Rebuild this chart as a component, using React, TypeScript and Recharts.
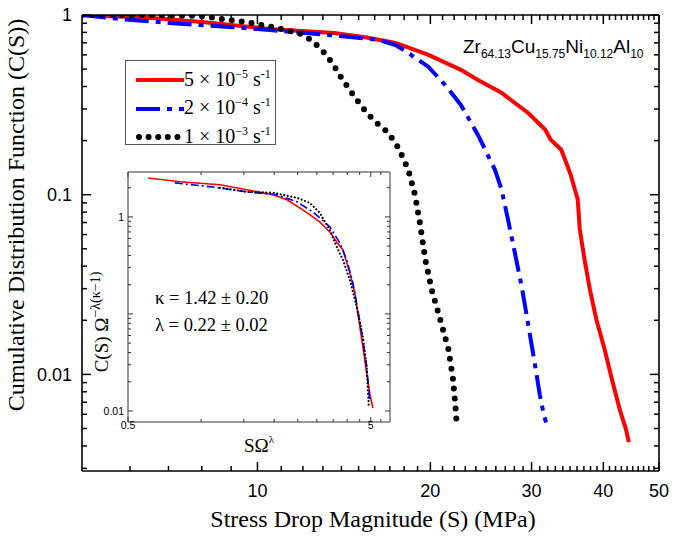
import { LineChart, Line, XAxis, YAxis, Legend } from "recharts";

// stress drop magnitude S (MPa) and cumulative distribution C(S), one pair per strain rate
const RED_S = [4.95, 6.56, 8.0, 10.5, 13.6, 15.5, 17.4, 19.85, 22.6, 24.2, 26.6, 29.6, 31.7, 32.4, 33.8, 35.1, 36.1, 36.4, 37.1, 37.9, 38.9, 40.2, 41.4, 42.7, 43.8, 44.3];
const RED_C = [1.0, 0.962, 0.914, 0.836, 0.794, 0.75, 0.699, 0.6, 0.495, 0.435, 0.369, 0.285, 0.23, 0.202, 0.178, 0.129, 0.094, 0.064, 0.0435, 0.0297, 0.0202, 0.0138, 0.0094, 0.0064, 0.00495, 0.0042];

const BLUE_S = [4.95, 5.76, 7.03, 8.93, 10.5, 13.3, 16.3, 17.4, 18.5, 19.85, 21.2, 22.6, 24.2, 25.9, 26.6, 27.3, 28.1, 28.9, 29.7, 30.4, 31.0, 31.5, 31.8];
const BLUE_C = [1.0, 0.95, 0.903, 0.858, 0.825, 0.774, 0.726, 0.681, 0.6, 0.514, 0.409, 0.316, 0.215, 0.138, 0.107, 0.0726, 0.0464, 0.0297, 0.0178, 0.0114, 0.00774, 0.006, 0.0054];

const BLACK_S = [4.95, 6.5, 7.93, 9.56, 10.6, 11.8, 12.4, 12.95, 13.5, 14.0, 14.6, 15.2, 15.9, 16.9, 17.6, 18.3, 18.8, 19.2, 19.6, 20.1, 20.8, 21.5, 21.9, 22.1, 22.2];
const BLACK_C = [1.0, 1.0, 0.987, 0.914, 0.858, 0.794, 0.726, 0.639, 0.541, 0.447, 0.369, 0.308, 0.261, 0.221, 0.182, 0.138, 0.1, 0.068, 0.0435, 0.0297, 0.0202, 0.0138, 0.0094, 0.0068, 0.0056];

// inset: scaled S Omega^lambda vs C(S) Omega^(-lambda(kappa-1))
const IN_RED_X = [0.605, 0.818, 1.196, 1.544, 1.976, 2.255, 2.625, 3.08, 3.39, 3.62, 3.84, 4.1, 4.3, 4.42, 4.64, 4.81, 4.95, 5.1];
const IN_RED_Y = [2.52, 2.3, 2.14, 1.9, 1.69, 1.5, 1.18, 0.888, 0.7, 0.552, 0.457, 0.265, 0.164, 0.102, 0.0457, 0.0246, 0.0153, 0.0107];

const IN_BLUE_X = [0.78, 1.196, 1.544, 2.05, 2.48, 2.89, 3.39, 3.73, 3.98, 4.22, 4.42, 4.64, 4.81, 4.95];
const IN_BLUE_Y = [2.24, 1.99, 1.81, 1.69, 1.43, 1.126, 0.789, 0.54, 0.36, 0.209, 0.11, 0.054, 0.0284, 0.013];

const IN_BLACK_X = [1.196, 1.544, 1.976, 2.48, 2.81, 3.08, 3.39, 3.62, 3.84, 4.1, 4.38, 4.64, 4.81, 4.91];
const IN_BLACK_Y = [1.99, 1.81, 1.77, 1.57, 1.39, 1.1, 0.734, 0.491, 0.36, 0.224, 0.118, 0.058, 0.0284, 0.0107];

const X_LABELS = [10, 20, 30, 40, 50];
const X_TICKS = [6, 7, 8, 9, 10, 11, 12, 13, 14, 15, 16, 17, 18, 19, 20, 21, 22, 23, 24, 25, 26, 27, 28, 29, 30, 31, 32, 33, 34, 35, 36, 37, 38, 39, 40, 41, 42, 43, 44, 45, 46, 47, 48, 49, 50];
const Y_LABELS = [0.01, 0.1, 1];
const Y_TICKS = [0.003, 0.004, 0.005, 0.006, 0.007, 0.008, 0.009, 0.01, 0.02, 0.03, 0.04, 0.05, 0.06, 0.07, 0.08, 0.09, 0.1, 0.2, 0.3, 0.4, 0.5, 0.6, 0.7, 0.8, 0.9, 1];

const IN_X_LABELS = [0.5, 5];
const IN_X_TICKS = [0.5, 1, 1.5, 2, 2.5, 3, 3.5, 4, 4.5, 5, 5.5];
const IN_Y_LABELS = [0.01, 1];
const IN_Y_MAJOR = [0.01, 0.1, 1];
const IN_Y_TICKS = [0.01, 0.02, 0.03, 0.04, 0.05, 0.06, 0.07, 0.08, 0.09, 0.1, 0.2, 0.3, 0.4, 0.5, 0.6, 0.7, 0.8, 0.9, 1, 2];

const SERIES = [
  { name: "5 × 10", exp: "−5", color: "#ff0000", dash: undefined, width: 4, cap: "butt" },
  { name: "2 × 10", exp: "−4", color: "#0000ff", dash: "24 7 5 7", width: 4, cap: "butt" },
  { name: "1 × 10", exp: "−3", color: "#000000", dash: "0 9.6", width: 6, cap: "round" },
];

const SANS = "'Liberation Sans', Arial, sans-serif";
const SERIF = "'Liberation Serif', 'Times New Roman', serif";

const zip = (xs: number[], ys: number[]) => xs.map((x, i) => ({ x, y: ys[i] }));

const hit = (arr: number[], v: number) => arr.some((a) => Math.abs(a - v) / a < 1e-6);

type Side = "bottom" | "top" | "left" | "right";

function tickFactory(
  side: Side,
  majors: number[],
  labels: number[],
  majorLen: number,
  minorLen: number,
  fontSize: number,
  gap: number,
  stroke: string,
  sw: number
) {
  return function Tick(props: any) {
    const { x, y, payload } = props;
    const v = Number(payload.value);
    const len = hit(majors, v) ? majorLen : minorLen;
    const dx = side === "left" ? len : side === "right" ? -len : 0;
    const dy = side === "bottom" ? -len : side === "top" ? len : 0;
    let label = null;
    if (hit(labels, v)) {
      if (side === "bottom") {
        label = (
          <text x={x} y={y + gap} textAnchor="middle" fontFamily={SANS} fontSize={fontSize} fill="#000">
            {String(v)}
          </text>
        );
      } else if (side === "left") {
        label = (
          <text x={x - gap} y={y + fontSize * 0.36} textAnchor="end" fontFamily={SANS} fontSize={fontSize} fill="#000">
            {String(v)}
          </text>
        );
      }
    }
    return (
      <g>
        <line x1={x} y1={y} x2={x + dx} y2={y + dy} stroke={stroke} strokeWidth={sw} />
        {label}
      </g>
    );
  };
}

function LegendBox() {
  return (
    <div
      style={{
        width: 151,
        height: 85,
        border: "1.5px solid #555",
        background: "#fff",
        paddingTop: 5,
        boxSizing: "border-box",
        fontFamily: SERIF,
      }}
    >
      {SERIES.map((s) => (
        <div key={s.exp} style={{ display: "flex", alignItems: "center", height: 28.5 }}>
          <svg width={58} height={10} style={{ flex: "none" }}>
            <line
              x1={s.cap === "round" ? 13 : 10}
              y1={5}
              x2={58}
              y2={5}
              stroke={s.color}
              strokeWidth={s.width}
              strokeDasharray={s.dash}
              strokeLinecap={s.cap as any}
            />
          </svg>
          <span style={{ fontSize: 20, lineHeight: "20px", whiteSpace: "nowrap", color: "#000" }}>
            {s.name}
            <span style={{ fontSize: 12, position: "relative", top: -8 }}>{s.exp}</span>
            {" s"}
            <span style={{ fontSize: 12, position: "relative", top: -8 }}>-1</span>
          </span>
        </div>
      ))}
    </div>
  );
}

function MainChart() {
  const axis = { stroke: "#000", strokeWidth: 1.6 };
  return (
    <LineChart width={675} height={540} margin={{ top: 14, right: 15, bottom: 68, left: 81 }}>
      <XAxis
        dataKey="x"
        type="number"
        scale="log"
        domain={[4.95, 50]}
        allowDataOverflow
        ticks={X_TICKS}
        interval={0}
        height={1}
        tickSize={0}
        tickMargin={0}
        tickLine={false}
        axisLine={axis}
        tick={tickFactory("bottom", X_LABELS, X_LABELS, 9, 5, 18, 26, "#000", 1.5)}
      />
      <XAxis
        xAxisId="top"
        orientation="top"
        dataKey="x"
        type="number"
        scale="log"
        domain={[4.95, 50]}
        allowDataOverflow
        ticks={X_TICKS}
        interval={0}
        height={1}
        tickSize={0}
        tickMargin={0}
        tickLine={false}
        axisLine={axis}
        tick={tickFactory("top", X_LABELS, [], 9, 5, 18, 0, "#000", 1.5)}
      />
      <YAxis
        type="number"
        scale="log"
        domain={[0.0029, 1]}
        allowDataOverflow
        ticks={Y_TICKS}
        interval={0}
        width={1}
        tickSize={0}
        tickMargin={0}
        tickLine={false}
        axisLine={axis}
        tick={tickFactory("left", Y_LABELS, Y_LABELS, 9, 5, 18, 10, "#000", 1.5)}
      />
      <YAxis
        yAxisId="right"
        orientation="right"
        type="number"
        scale="log"
        domain={[0.0029, 1]}
        allowDataOverflow
        ticks={Y_TICKS}
        interval={0}
        width={1}
        tickSize={0}
        tickMargin={0}
        tickLine={false}
        axisLine={axis}
        tick={tickFactory("right", Y_LABELS, [], 9, 5, 18, 0, "#000", 1.5)}
      />
      <Line data={zip(RED_S, RED_C)} dataKey="y" stroke="#ff0000" strokeWidth={4} dot={false} isAnimationActive={false} />
      <Line
        data={zip(BLUE_S, BLUE_C)}
        dataKey="y"
        stroke="#0000ff"
        strokeWidth={4}
        strokeDasharray="24 7 5 7"
        dot={false}
        isAnimationActive={false}
      />
      <Line
        data={zip(BLACK_S, BLACK_C)}
        dataKey="y"
        stroke="#000"
        strokeWidth={6}
        strokeDasharray="0 10"
        strokeLinecap="round"
        dot={false}
        isAnimationActive={false}
      />
      <Legend
        layout="vertical"
        align="center"
        verticalAlign="middle"
        wrapperStyle={{ left: 125, top: 60, width: 153, height: 87 }}
        content={() => <LegendBox />}
      />
    </LineChart>
  );
}

function InsetChart() {
  const axis = { stroke: "#333", strokeWidth: 1 };
  return (
    <LineChart width={675} height={540} margin={{ top: 171, right: 284, bottom: 117, left: 127 }}>
      <XAxis
        dataKey="x"
        type="number"
        scale="log"
        domain={[0.5, 6]}
        allowDataOverflow
        ticks={IN_X_TICKS}
        interval={0}
        height={1}
        tickSize={0}
        tickMargin={0}
        tickLine={false}
        axisLine={axis}
        tick={tickFactory("bottom", IN_X_LABELS, IN_X_LABELS, 5, 3, 10.5, 7, "#333", 1)}
      />
      <XAxis
        xAxisId="top"
        orientation="top"
        dataKey="x"
        type="number"
        scale="log"
        domain={[0.5, 6]}
        allowDataOverflow
        ticks={IN_X_TICKS}
        interval={0}
        height={1}
        tickSize={0}
        tickMargin={0}
        tickLine={false}
        axisLine={axis}
        tick={tickFactory("top", IN_X_LABELS, [], 5, 3, 10.5, 0, "#333", 1)}
      />
      <YAxis
        type="number"
        scale="log"
        domain={[0.0077, 2.9]}
        allowDataOverflow
        ticks={IN_Y_TICKS}
        interval={0}
        width={1}
        tickSize={0}
        tickMargin={0}
        tickLine={false}
        axisLine={axis}
        tick={tickFactory("left", IN_Y_MAJOR, IN_Y_LABELS, 5, 3, 10.5, 4, "#333", 1)}
      />
      <YAxis
        yAxisId="right"
        orientation="right"
        type="number"
        scale="log"
        domain={[0.0077, 2.9]}
        allowDataOverflow
        ticks={IN_Y_TICKS}
        interval={0}
        width={1}
        tickSize={0}
        tickMargin={0}
        tickLine={false}
        axisLine={axis}
        tick={tickFactory("right", IN_Y_MAJOR, [], 5, 3, 10.5, 0, "#333", 1)}
      />
      <Line data={zip(IN_RED_X, IN_RED_Y)} dataKey="y" stroke="#ff0000" strokeWidth={1.6} dot={false} isAnimationActive={false} />
      <Line
        data={zip(IN_BLUE_X, IN_BLUE_Y)}
        dataKey="y"
        stroke="#0000ff"
        strokeWidth={1.6}
        strokeDasharray="8 3 2 3"
        dot={false}
        isAnimationActive={false}
      />
      <Line
        data={zip(IN_BLACK_X, IN_BLACK_Y)}
        dataKey="y"
        stroke="#000"
        strokeWidth={2.2}
        strokeDasharray="0 3.6"
        strokeLinecap="round"
        dot={false}
        isAnimationActive={false}
      />
    </LineChart>
  );
}

export default function App() {
  return (
    <div style={{ position: "absolute", left: 0, top: 0, width: 675, height: 540, background: "#fff", overflow: "hidden" }}>
      <div style={{ position: "absolute", left: 0, top: 0 }}>
        <MainChart />
      </div>
      <div style={{ position: "absolute", left: 0, top: 0 }}>
        <InsetChart />
      </div>
      <svg width={675} height={540} style={{ position: "absolute", left: 0, top: 0, pointerEvents: "none" }}>
        <text transform="translate(24,215) rotate(-90)" textAnchor="middle" fontFamily={SERIF} fontSize={24} fill="#000">
          Cumulative Distribution Function (C(S))
        </text>
        <text x={373} y={527} textAnchor="middle" fontFamily={SERIF} fontSize={24} fill="#000">
          Stress Drop Magnitude (S) (MPa)
        </text>
        <text x={463} y={53} fontFamily={SANS} fontSize={19} fill="#000">
          Zr<tspan fontSize={12} dy={5}>64.13</tspan>
          <tspan fontSize={19} dy={-5}>Cu</tspan>
          <tspan fontSize={12} dy={5}>15.75</tspan>
          <tspan fontSize={19} dy={-5}>Ni</tspan>
          <tspan fontSize={12} dy={5}>10.12</tspan>
          <tspan fontSize={19} dy={-5}>Al</tspan>
          <tspan fontSize={12} dy={5}>10</tspan>
        </text>
        <text x={155} y={304} fontFamily={SERIF} fontSize={18.5} fill="#000">
          κ = 1.42 ± 0.20
        </text>
        <text x={155} y={331} fontFamily={SERIF} fontSize={18.5} fill="#000">
          λ = 0.22 ± 0.02
        </text>
        <text transform="translate(108,322) rotate(-90)" textAnchor="middle" fontFamily={SERIF} fontSize={19} fill="#000">
          C(S) Ω<tspan fontSize={14} dy={-8}>−λ(κ−1)</tspan>
        </text>
        <text x={244} y={452} fontFamily={SERIF} fontSize={19} fill="#000">
          SΩ<tspan fontSize={11} dy={-9}>λ</tspan>
        </text>
      </svg>
    </div>
  );
}
